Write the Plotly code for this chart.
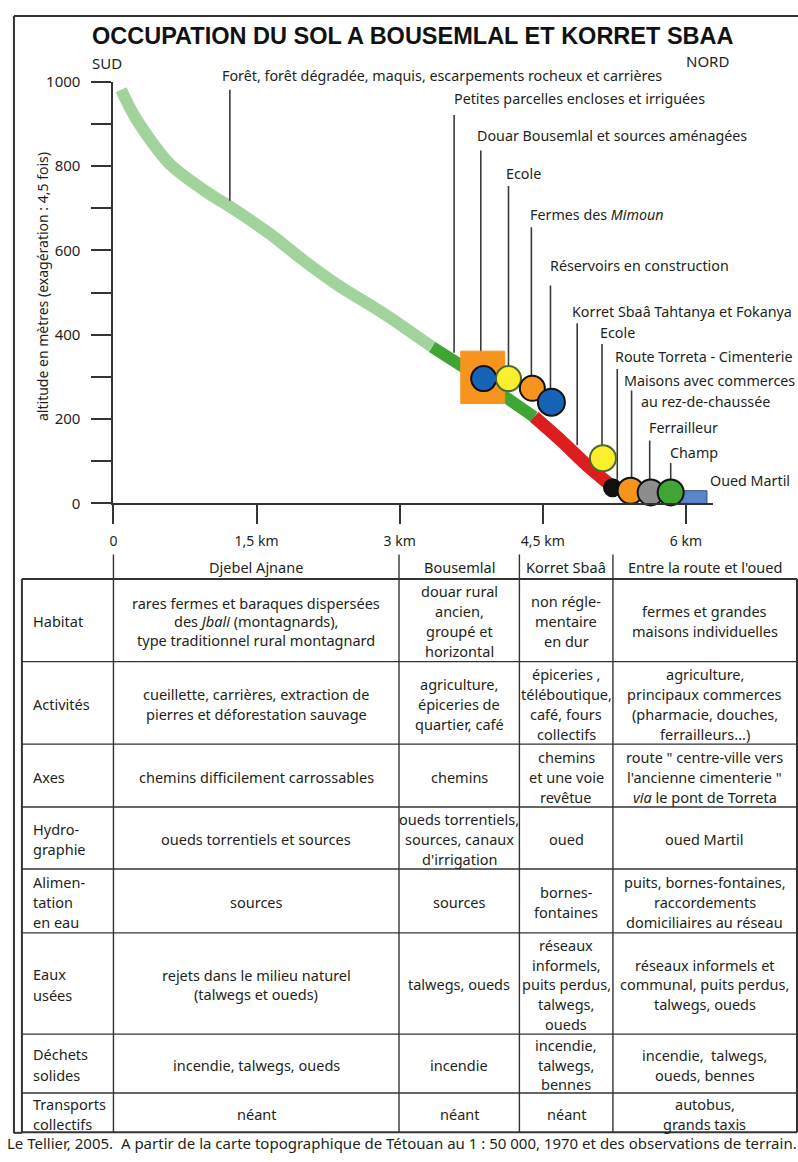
import plotly.graph_objects as go

W, H = 798, 1162
FONT = "Noto Sans"
INK = "#231f20"

# ---- profile data (distance in km, altitude in m) ----
forest_km = [0.08, 0.24, 0.59, 1.0, 1.22, 1.64, 2.0, 2.37, 2.82, 3.34]
forest_alt = [981, 911, 805, 735, 704, 639, 575, 515, 452, 371]
irrig_km = [3.34, 3.63, 3.9, 4.10, 4.41]
irrig_alt = [371, 329, 290, 254, 205]
built_km = [4.41, 4.69, 4.97, 5.2]
built_alt = [205, 149, 89, 45]

douar_km = [3.64, 4.10]
douar_alt = [237, 361]
oued_km = [5.94, 6.22]
oued_alt = [0, 30]

poi_km = [3.88, 4.14, 4.39, 4.59, 5.13, 5.23, 5.42, 5.63, 5.84]
poi_alt = [296, 296, 273, 240, 107, 37, 30, 26, 26]
poi_size = [25, 25, 25, 27, 26, 17, 26, 26, 26]
poi_color = ["#1763b8", "#f9ef2c", "#f7941d", "#1763b8", "#f9ef2c",
             "#111111", "#f7941d", "#8d8d8d", "#41a535"]
poi_line = ["#111", "#4d6b2c", "#111", "#111", "#4d6b2c", "#111", "#111", "#111", "#111"]

leader_km = [1.22, 3.57, 3.85, 4.14, 4.38, 4.58, 4.86, 5.12, 5.28, 5.43, 5.62, 5.84]
leader_top = [981, 921, 837, 753, 655, 517, 427, 378, 319, 268, 149, 96]
leader_bottom = [718, 357, 359, 324, 301, 270, 138, 135, 56, 61, 54, 54]

labels = ["Forêt, forêt dégradée, maquis, escarpements rocheux et carrières",
          "Petites parcelles encloses et irriguées",
          "Douar Bousemlal et sources aménagées",
          "Ecole",
          "Fermes des <i>Mimoun</i>",
          "Réservoirs en construction",
          "Korret Sbaâ Tahtanya et Fokanya",
          "Ecole",
          "Route Torreta - Cimenterie",
          "Maisons avec commerces",
          "au rez-de-chaussée",
          "Ferrailleur",
          "Champ",
          "Oued Martil"]
label_px = [(217, 66), (450, 89), (473, 127), (503, 165), (527, 207), (547, 259),
            (569, 306), (597, 327), (612, 352), (621, 376), (638, 397), (646, 424),
            (667, 449), (708, 478)]

y_ticks = list(range(0, 1001, 100))
y_ticktext = [str(v) if v % 200 == 0 else "" for v in y_ticks]
x_ticks = [0, 1.5, 3, 4.5, 6]
x_ticktext = ["0", "1,5 km", "3 km", "4,5 km", "6 km"]

# ---- table data ----
col_headers = ["Djebel Ajnane", "Bousemlal", "Korret Sbaâ", "Entre la route et l'oued"]
row_labels = ["Habitat", "Activités", "Axes", "Hydro-<br>graphie", "Alimen-<br>tation<br>en eau",
              "Eaux<br>usées", "Déchets<br>solides", "Transports<br>collectifs"]
djebel = ["rares fermes et baraques dispersées<br>des <i>Jbali</i> (montagnards),<br>type traditionnel rural montagnard",
          "cueillette, carrières, extraction de<br>pierres et déforestation sauvage",
          "chemins difficilement carrossables",
          "oueds torrentiels et sources",
          "sources",
          "rejets dans le milieu naturel<br>(talwegs et oueds)",
          "incendie, talwegs, oueds",
          "néant"]
bousemlal = ["douar rural<br>ancien,<br>groupé et<br>horizontal",
             "agriculture,<br>épiceries de<br>quartier, café",
             "chemins",
             "oueds torrentiels,<br>sources, canaux<br>d'irrigation",
             "sources",
             "talwegs, oueds",
             "incendie",
             "néant"]
korret = ["non régle-<br>mentaire<br>en dur",
          "épiceries ,<br>téléboutique,<br>café, fours<br>collectifs",
          "chemins<br>et une voie<br>revêtue",
          "oued",
          "bornes-<br>fontaines",
          "réseaux<br>informels,<br>puits perdus,<br>talwegs,<br>oueds",
          "incendie,<br>talwegs,<br>bennes",
          "néant"]
entre = ["fermes et grandes<br>maisons individuelles",
         "agriculture,<br>principaux commerces<br>(pharmacie, douches,<br>ferrailleurs...)",
         "route \" centre-ville vers<br>l'ancienne cimenterie \"<br><i>via</i> le pont de Torreta",
         "oued Martil",
         "puits, bornes-fontaines,<br>raccordements<br>domiciliaires au réseau",
         "réseaux informels et<br>communal, puits perdus,<br>talwegs, oueds",
         "incendie,  talwegs,<br>oueds, bennes",
         "autobus,<br>grands taxis"]
columns = [djebel, bousemlal, korret, entre]

# table geometry in pixels
col_x = [18, 110, 397, 518, 612, 797]
row_y = [578, 662, 746, 810, 873, 938, 1041, 1101, 1141]
leading = {(0, 0): 19, (0, 5): 19}


def px(x):
    return x / W


def py(y):
    return 1 - y / H


KM_PX = 95.9
M_PX = 0.429
x_max = 6.28

fig = go.Figure()

# profile bands
for xs, ys, c, w in [(forest_km, forest_alt, "#a3d39c", 12),
                     (irrig_km, irrig_alt, "#3fa535", 12),
                     (built_km, built_alt, "#dc1e1e", 13)]:
    fig.add_trace(go.Scatter(x=xs, y=ys, mode="lines", hoverinfo="skip",
                             line=dict(color=c, width=w, shape="spline", smoothing=0.8)))

# leader lines
lx, ly = [], []
for k, t, b in zip(leader_km, leader_top, leader_bottom):
    lx += [k, k, None]
    ly += [t, b, None]
fig.add_trace(go.Scatter(x=lx, y=ly, mode="lines", line=dict(color="#3a3a3a", width=1.6),
                         hoverinfo="skip"))

# douar square and oued rectangle
for (xa, xb), (ya, yb), c, lc in [(douar_km, douar_alt, "#f7941d", "#f7941d"),
                                  (oued_km, oued_alt, "#5a86c9", "#2d4f86")]:
    fig.add_trace(go.Scatter(x=[xa, xb, xb, xa, xa], y=[ya, ya, yb, yb, ya], mode="lines",
                             fill="toself", fillcolor=c, line=dict(color=lc, width=1),
                             hoverinfo="skip"))

# points of interest
for k, a, s, c, lc in zip(poi_km, poi_alt, poi_size, poi_color, poi_line):
    fig.add_trace(go.Scatter(x=[k], y=[a], mode="markers", cliponaxis=False,
                             marker=dict(size=s, color=c, line=dict(color=lc, width=2)),
                             hoverinfo="skip"))

ax_col = "#333333"
fig.update_layout(
    width=W, height=H, margin=dict(l=0, r=0, t=0, b=0),
    paper_bgcolor="white", plot_bgcolor="white", showlegend=False,
    font=dict(family=FONT, color=INK, size=14),
    xaxis=dict(domain=[px(110), px(110 + x_max * KM_PX)], range=[0, x_max],
               showline=True, linecolor=ax_col, linewidth=2, showgrid=False, zeroline=False,
               ticks="outside", ticklen=19, tickwidth=2, tickcolor=ax_col,
               tickvals=x_ticks, ticktext=x_ticktext, ticklabelstandoff=5,
               tickfont=dict(family=FONT, size=14, color=INK), fixedrange=True),
    yaxis=dict(domain=[py(501), py(501 - 1000 * M_PX)], range=[0, 1000],
               showline=True, linecolor=ax_col, linewidth=2, showgrid=False, zeroline=False,
               ticks="outside", ticklen=20, tickwidth=2, tickcolor=ax_col,
               tickvals=y_ticks, ticktext=y_ticktext, ticklabelstandoff=8,
               tickfont=dict(family=FONT, size=15, color=INK), fixedrange=True),
)

ann = []


def text(x, y, t, size=14.5, anchor="center", **kw):
    ann.append(dict(x=px(x), y=py(y), xref="paper", yref="paper", text=t, showarrow=False,
                    xanchor=anchor, yanchor="middle", font=dict(family=FONT, size=size, color=INK),
                    **kw))


# title and orientation
ann.append(dict(x=px(411), y=py(25), xref="paper", yref="paper", showarrow=False,
                text="<b>OCCUPATION DU SOL A BOUSEMLAL ET KORRET SBAA</b>",
                xanchor="center", yanchor="middle",
                font=dict(family="Liberation Sans", size=23.5, color="#111")))
text(104, 53, "SUD", 15)
text(707, 51, "NORD", 15)
text(38, 280, "altitude en mètres (exagération : 4,5 fois)", 14, textangle=-90)

for t, (x, y) in zip(labels, label_px):
    text(x, y, t, 14.3, anchor="left")

# table header
for i, h in enumerate(col_headers):
    text((col_x[i + 1] + col_x[i + 2]) / 2, 566, h)

shapes = []


def line(x0, y0, x1, y1, w=1.4):
    shapes.append(dict(type="line", xref="paper", yref="paper", x0=px(x0), y0=py(y0),
                       x1=px(x1), y1=py(y1), line=dict(color="#333", width=w)))


# outer frame
line(10, 5, 800, 5, 2)
line(10, 5, 10, 1142, 2)
line(10, 1141.5, 18, 1141.5, 2)

for xv in col_x[1:5]:
    line(xv, 553, xv, row_y[-1])
line(col_x[0], row_y[0], col_x[0], row_y[-1], 2)
line(col_x[-1], row_y[0], col_x[-1], row_y[-1], 2)
for j, yv in enumerate(row_y):
    line(col_x[0], yv, col_x[-1], yv, 2 if j in (0, len(row_y) - 1) else 1.4)

for r in range(len(row_labels)):
    cy = (row_y[r] + row_y[r + 1]) / 2 + 1
    parts = row_labels[r].split("<br>")
    for n, p in enumerate(parts):
        text(27, cy + (n - (len(parts) - 1) / 2) * 20.5, p, anchor="left")
    for c, col in enumerate(columns):
        cx = (col_x[c + 1] + col_x[c + 2]) / 2
        parts = col[r].split("<br>")
        lead = leading.get((c, r), 20.3)
        for n, p in enumerate(parts):
            text(cx, cy + (n - (len(parts) - 1) / 2) * lead, p)

text(400, 1152, "Le Tellier, 2005.  A partir de la carte topographique de Tétouan au 1 : 50 000, 1970 "
                "et des observations de terrain.", 15)

fig.update_layout(annotations=ann, shapes=shapes)
fig.write_html("out.html", config={"displayModeBar": False},
               post_script="document.body.style.margin='0';")
